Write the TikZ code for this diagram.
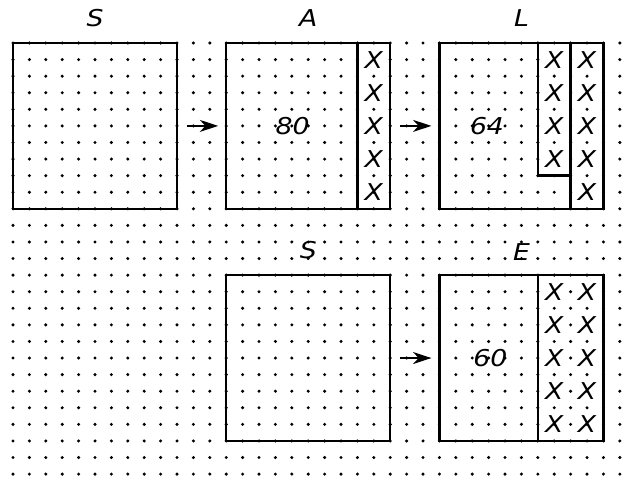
\documentclass[tikz,border=0pt]{standalone}
\usepackage{fontspec}
\newfontfamily\handfont[FakeStretch=1.15]{DejaVu Sans}
\usetikzlibrary{
    arrows.meta,
    positioning
}
\tikzset{
  sq/.style     = {draw, line width=1.7pt, minimum width=4.1cm,
                   minimum height=4.145cm, inner sep=0pt, outer sep=0pt},
  part/.style   = {line width=1.7pt},
  hand/.style   = {font=\handfont\itshape\fontsize{16.5}{19}\selectfont,
                   inner sep=0pt},
  title/.style  = {hand, anchor=base},
  arr/.style    = {-{Stealth[length=4.6mm, width=3mm, inset=1.4mm]},
                   line width=1pt, shorten <=0.25cm, shorten >=0.2cm}
}
\newcommand{\xcol}[3]{%
  \foreach \r in {#2} {\node[hand] at (#1,-\r) {X};}
}

\begin{document}
\begin{tikzpicture}[x=0.41cm, y=0.4145cm]

  \useasboundingbox (-0.793,2.593) rectangle (37.62,-26.18);

  %% ── Dot grid ──────────────────────────────────────────────────
  \foreach \c in {0,...,37}
    \foreach \r in {0,...,26}
      \fill (\c,-\r) circle (1.2pt);

  %% ── Squares ───────────────────────────────────────────────────
  \node[sq] (s1) at ( 5, -5) {};
  \node[sq] (a)  at (18, -5) {};
  \node[sq] (l)  at (31, -5) {};
  \node[sq] (s2) at (18,-19) {};
  \node[sq] (e)  at (31,-19) {};

  %% ── Cut-off strips ────────────────────────────────────────────
  \draw[part] (21,  0) -- (21,-10);
  \draw[part] (32,  0) -- (32, -8) -- (34, -8);
  \draw[part] (34,  0) -- (34,-10);
  \draw[part] (32,-14) -- (32,-24);

  %% ── Crosses ───────────────────────────────────────────────────
  \xcol{22}{1,3,5,7,9}{}
  \xcol{33}{1,3,5,7}{}
  \xcol{35}{1,3,5,7,9}{}
  \xcol{33}{15,17,19,21,23}{}
  \xcol{35}{15,17,19,21,23}{}

  %% ── Areas ─────────────────────────────────────────────────────
  \node[hand] (n80) at (17.05, -5) {80};
  \node[hand] (n64) at (28.9,  -5) {64};
  \node[hand] (n60) at (29.1, -19) {60};

  %% ── Titles ────────────────────────────────────────────────────
  \node[title] (ts1) at ( 5,  0.98) {S};
  \node[title] (ta)  at (18,  0.98) {A};
  \node[title] (tl)  at (31,  0.98) {L};
  \node[title] (ts2) at (18,-13.0)  {S};
  \node[title] (te)  at (31,-13.1)  {E};

  %% ── Arrows ────────────────────────────────────────────────────
  \draw[arr] (s1) -- (a);
  \draw[arr] (a)  -- (l);
  \draw[arr] (s2) -- (e);

\end{tikzpicture}
\end{document}
